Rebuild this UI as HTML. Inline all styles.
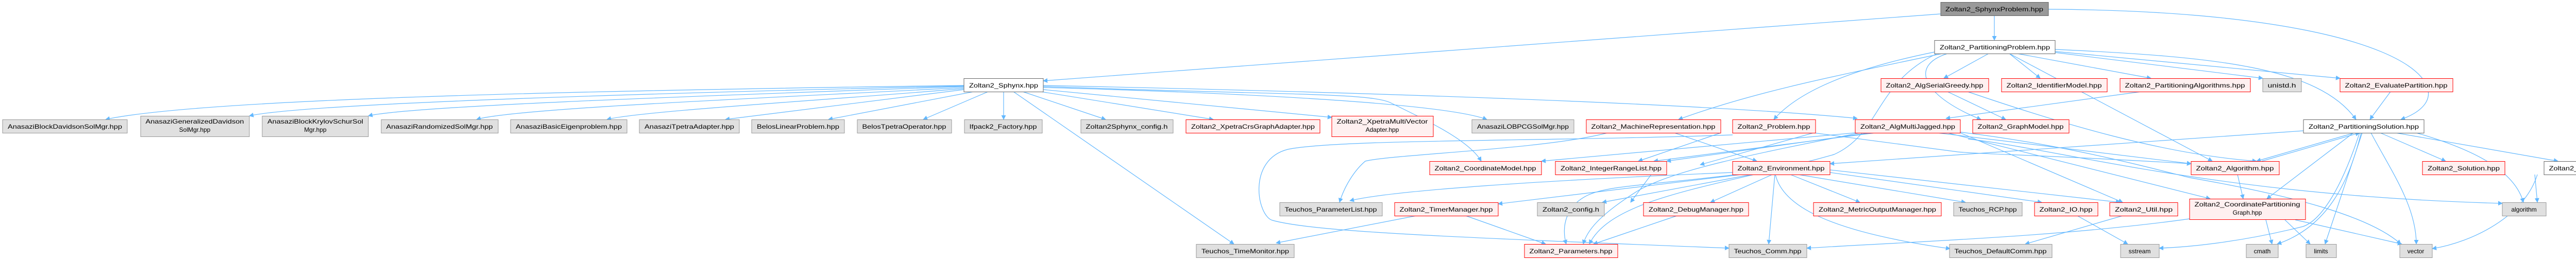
<!DOCTYPE html>
<html><head><meta charset="utf-8"><style>
html,body{margin:0;padding:0;background:#fff;}
svg{display:block;}
text{font-family:"Liberation Sans",sans-serif;font-size:12px;fill:#000;}
.g rect{fill:#e0e0e0;stroke:#999;stroke-width:1;}
.r rect{fill:#fff0f0;stroke:#f00;stroke-width:1;}
.w rect{fill:#fff;stroke:#666;stroke-width:1;}
.d rect{fill:#999;stroke:#666;stroke-width:1;}
.e path{fill:none;stroke:#63b8ff;stroke-width:1.2;}
</style></head><body>
<svg width="5133" height="505" viewBox="0 0 5133 505" xmlns="http://www.w3.org/2000/svg">
<defs><marker id="a" viewBox="0 0 10 10" refX="9" refY="5" markerWidth="9" markerHeight="9" orient="auto" markerUnits="userSpaceOnUse"><path d="M0,0 L10,5 L0,10 z" fill="#63b8ff"/></marker></defs>
<g class="e" marker-end="url(#a)">
<path marker-end="url(#a)" d="M3871 31 L3871 78"/>
<path marker-end="url(#a)" d="M3767 27 L2025 157"/>
<path marker-end="url(#a)" d="M3976 18 C4400 20 4640 80 4700 150 C4740 200 4680 225 4660 232"/>
<path marker-end="url(#a)" d="M3860 104 L3773 152"/>
<path marker-end="url(#a)" d="M3900 104 L3960 152"/>
<path marker-end="url(#a)" d="M3915 104 L4175 152"/>
<path marker-end="url(#a)" d="M3989 102 L4392 152"/>
<path marker-end="url(#a)" d="M3989 100 L4542 152"/>
<path marker-end="url(#a)" d="M3989 96 C4300 110 4500 130 4573 232"/>
<path marker-end="url(#a)" d="M3770 104 C3550 150 3400 180 3258 232"/>
<path marker-end="url(#a)" d="M3760 100 C3560 140 3480 190 3443 232"/>
<path marker-end="url(#a)" d="M3780 104 C3700 130 3740 190 3845 232"/>
<path marker-end="url(#a)" d="M3900 104 L4294 313"/>
<path marker-end="url(#a)" d="M3760 104 C3640 160 3650 260 3560 300 C3350 360 3130 380 3085 474"/>
<path marker-end="url(#a)" d="M1871 166 C1200 175 400 190 205 232"/>
<path marker-end="url(#a)" d="M1871 167 C1300 180 600 200 484 225"/>
<path marker-end="url(#a)" d="M1871 168 C1400 185 800 205 715 225"/>
<path marker-end="url(#a)" d="M1871 170 C1500 190 1000 210 925 232"/>
<path marker-end="url(#a)" d="M1871 172 C1600 195 1250 215 1178 232"/>
<path marker-end="url(#a)" d="M1871 174 L1408 232"/>
<path marker-end="url(#a)" d="M1890 178 L1608 232"/>
<path marker-end="url(#a)" d="M1918 178 L1792 232"/>
<path marker-end="url(#a)" d="M1948 178 L1948 232"/>
<path marker-end="url(#a)" d="M1985 178 L2146 232"/>
<path marker-end="url(#a)" d="M2020 178 L2355 232"/>
<path marker-end="url(#a)" d="M2025 174 L2585 228"/>
<path marker-end="url(#a)" d="M2025 170 C2400 180 2800 200 2886 232"/>
<path marker-end="url(#a)" d="M2025 166 C2600 178 3300 200 3605 230"/>
<path marker-end="url(#a)" d="M2025 168 C2500 185 2660 180 2700 200 C2760 230 2850 270 2875 313"/>
<path marker-end="url(#a)" d="M1967 178 L2395 474"/>
<path marker-end="url(#a)" d="M3120 258 C3000 290 2700 300 2650 313 C2630 330 2610 360 2600 393"/>
<path marker-end="url(#a)" d="M3363 262 C3000 275 2600 270 2500 290 C2420 310 2440 420 2470 428 C2550 450 2800 460 3356 482"/>
<path marker-end="url(#a)" d="M3520 258 L3800 295 C3850 300 3950 300 4253 318"/>
<path marker-end="url(#a)" d="M3520 258 L3300 320"/>
<path marker-end="url(#a)" d="M3340 258 L3180 313"/>
<path marker-end="url(#a)" d="M3250 258 L3410 313"/>
<path marker-end="url(#a)" d="M3630 258 L3235 313"/>
<path marker-end="url(#a)" d="M3640 258 L3210 313"/>
<path marker-end="url(#a)" d="M3601 258 L2992 313"/>
<path marker-end="url(#a)" d="M3610 258 C3400 300 3250 330 3180 370 C3100 420 3080 450 3073 474"/>
<path marker-end="url(#a)" d="M3760 258 L4253 318"/>
<path marker-end="url(#a)" d="M3805 258 L4120 393"/>
<path marker-end="url(#a)" d="M3780 258 L4290 386"/>
<path marker-end="url(#a)" d="M3800 256 C4000 280 4150 320 4250 345 C4450 380 4600 420 4660 474"/>
<path marker-end="url(#a)" d="M3820 270 C4000 290 4300 380 4857 395"/>
<path marker-end="url(#a)" d="M4471 254 L3552 318"/>
<path marker-end="url(#a)" d="M4570 258 L4380 313"/>
<path marker-end="url(#a)" d="M4390 313 L4580 258"/>
<path marker-end="url(#a)" d="M4620 258 L4747 313"/>
<path marker-end="url(#a)" d="M4650 258 L4965 313"/>
<path marker-end="url(#a)" d="M4568 258 L4400 386"/>
<path marker-end="url(#a)" d="M4690 258 C4800 290 4880 330 4898 393"/>
<path marker-end="url(#a)" d="M4602 258 C4640 330 4690 400 4690 474"/>
<path marker-end="url(#a)" d="M4585 258 L4513 474"/>
<path marker-end="url(#a)" d="M4583 258 C4560 350 4520 440 4420 474"/>
<path marker-end="url(#a)" d="M4580 258 C4540 380 4500 430 4470 440 C4350 470 4250 480 4191 482"/>
<path marker-end="url(#a)" d="M4640 178 L4600 232"/>
<path marker-end="url(#a)" d="M4156 178 L3777 230"/>
<path marker-end="url(#a)" d="M3780 178 L3893 232"/>
<path marker-end="url(#a)" d="M3819 178 C4000 240 4200 300 4380 313"/>
<path marker-end="url(#a)" d="M4343 339 L4354 386"/>
<path marker-end="url(#a)" d="M4398 427 L4410 474"/>
<path marker-end="url(#a)" d="M4435 427 L4484 474"/>
<path marker-end="url(#a)" d="M4455 427 L4662 474"/>
<path marker-end="url(#a)" d="M4250 425 C4000 460 3700 470 3507 482"/>
<path marker-end="url(#a)" d="M4920 339 L4925 393"/>
<path marker-end="url(#a)" d="M4925 339 C4900 420 4800 470 4721 483"/>
<path marker-end="url(#a)" d="M3400 339 L3110 393"/>
<path marker-end="url(#a)" d="M3440 339 L3320 393"/>
<path marker-end="url(#a)" d="M3475 339 L3610 393"/>
<path marker-end="url(#a)" d="M3490 339 L3815 393"/>
<path marker-end="url(#a)" d="M3552 335 L3963 393"/>
<path marker-end="url(#a)" d="M3552 330 L4115 393"/>
<path marker-end="url(#a)" d="M3445 339 L3433 474"/>
<path marker-end="url(#a)" d="M3446 339 C3460 400 3550 450 3785 483"/>
<path marker-end="url(#a)" d="M3370 339 C3200 360 3120 360 3080 380 C3040 400 3030 440 3040 474"/>
<path marker-end="url(#a)" d="M3363 335 C3000 350 2700 370 2620 390"/>
<path marker-end="url(#a)" d="M3380 339 L2908 396"/>
<path marker-end="url(#a)" d="M3205 339 L3165 393"/>
<path marker-end="url(#a)" d="M2845 419 L3000 474"/>
<path marker-end="url(#a)" d="M2749 419 L2477 472"/>
<path marker-end="url(#a)" d="M3255 419 L3093 474"/>
<path marker-end="url(#a)" d="M4120 419 L3931 474"/>
<path marker-end="url(#a)" d="M4032 419 L4130 474"/>
</g>
<g class="d"><rect x="3767" y="4.5" width="209" height="26"/><text x="3871" y="22" text-anchor="middle" textLength="190" lengthAdjust="spacingAndGlyphs">Zoltan2_SphynxProblem.hpp</text></g>
<g class="w"><rect x="3755" y="78.5" width="234" height="26"/><text x="3872" y="96" text-anchor="middle" textLength="214" lengthAdjust="spacingAndGlyphs">Zoltan2_PartitioningProblem.hpp</text></g>
<g class="w"><rect x="1871" y="152.5" width="154" height="26"/><text x="1948" y="170" text-anchor="middle" textLength="134" lengthAdjust="spacingAndGlyphs">Zoltan2_Sphynx.hpp</text></g>
<g class="r"><rect x="3651" y="152.5" width="209" height="26"/><text x="3755" y="170" text-anchor="middle" textLength="189" lengthAdjust="spacingAndGlyphs">Zoltan2_AlgSerialGreedy.hpp</text></g>
<g class="r"><rect x="3885" y="152.5" width="205" height="26"/><text x="3987" y="170" text-anchor="middle" textLength="185" lengthAdjust="spacingAndGlyphs">Zoltan2_IdentifierModel.hpp</text></g>
<g class="r"><rect x="4115" y="152.5" width="253" height="26"/><text x="4241" y="170" text-anchor="middle" textLength="233" lengthAdjust="spacingAndGlyphs">Zoltan2_PartitioningAlgorithms.hpp</text></g>
<g class="g"><rect x="4392" y="152.5" width="75" height="26"/><text x="4429" y="170" text-anchor="middle" textLength="55" lengthAdjust="spacingAndGlyphs">unistd.h</text></g>
<g class="r"><rect x="4542" y="152.5" width="219" height="26"/><text x="4651" y="170" text-anchor="middle" textLength="199" lengthAdjust="spacingAndGlyphs">Zoltan2_EvaluatePartition.hpp</text></g>
<g class="g"><rect x="5" y="232.5" width="242" height="26"/><text x="126" y="250" text-anchor="middle" textLength="222" lengthAdjust="spacingAndGlyphs">AnasaziBlockDavidsonSolMgr.hpp</text></g>
<g class="g"><rect x="273" y="225.5" width="211" height="40"/><text x="378" y="240" text-anchor="middle" textLength="191" lengthAdjust="spacingAndGlyphs">AnasaziGeneralizedDavidson</text><text x="378" y="256" text-anchor="middle">SolMgr.hpp</text></g>
<g class="g"><rect x="509" y="225.5" width="206" height="40"/><text x="612" y="240" text-anchor="middle" textLength="186" lengthAdjust="spacingAndGlyphs">AnasaziBlockKrylovSchurSol</text><text x="612" y="256" text-anchor="middle">Mgr.hpp</text></g>
<g class="g"><rect x="740" y="232.5" width="227" height="26"/><text x="853" y="250" text-anchor="middle" textLength="207" lengthAdjust="spacingAndGlyphs">AnasaziRandomizedSolMgr.hpp</text></g>
<g class="g"><rect x="991" y="232.5" width="226" height="26"/><text x="1104" y="250" text-anchor="middle" textLength="206" lengthAdjust="spacingAndGlyphs">AnasaziBasicEigenproblem.hpp</text></g>
<g class="g"><rect x="1241" y="232.5" width="194" height="26"/><text x="1338" y="250" text-anchor="middle" textLength="174" lengthAdjust="spacingAndGlyphs">AnasaziTpetraAdapter.hpp</text></g>
<g class="g"><rect x="1459" y="232.5" width="180" height="26"/><text x="1549" y="250" text-anchor="middle" textLength="160" lengthAdjust="spacingAndGlyphs">BelosLinearProblem.hpp</text></g>
<g class="g"><rect x="1664" y="232.5" width="183" height="26"/><text x="1755" y="250" text-anchor="middle" textLength="163" lengthAdjust="spacingAndGlyphs">BelosTpetraOperator.hpp</text></g>
<g class="g"><rect x="1872" y="232.5" width="151" height="26"/><text x="1947" y="250" text-anchor="middle" textLength="131" lengthAdjust="spacingAndGlyphs">Ifpack2_Factory.hpp</text></g>
<g class="g"><rect x="2098" y="232.5" width="179" height="26"/><text x="2187" y="250" text-anchor="middle" textLength="159" lengthAdjust="spacingAndGlyphs">Zoltan2Sphynx_config.h</text></g>
<g class="r"><rect x="2302" y="232.5" width="260" height="26"/><text x="2432" y="250" text-anchor="middle" textLength="240" lengthAdjust="spacingAndGlyphs">Zoltan2_XpetraCrsGraphAdapter.hpp</text></g>
<g class="r"><rect x="2585" y="225.5" width="197" height="40"/><text x="2683" y="240" text-anchor="middle" textLength="177" lengthAdjust="spacingAndGlyphs">Zoltan2_XpetraMultiVector</text><text x="2683" y="256" text-anchor="middle">Adapter.hpp</text></g>
<g class="g"><rect x="2857" y="232.5" width="198" height="26"/><text x="2956" y="250" text-anchor="middle" textLength="178" lengthAdjust="spacingAndGlyphs">AnasaziLOBPCGSolMgr.hpp</text></g>
<g class="r"><rect x="3079" y="232.5" width="261" height="26"/><text x="3209" y="250" text-anchor="middle" textLength="241" lengthAdjust="spacingAndGlyphs">Zoltan2_MachineRepresentation.hpp</text></g>
<g class="r"><rect x="3363" y="232.5" width="161" height="26"/><text x="3443" y="250" text-anchor="middle" textLength="141" lengthAdjust="spacingAndGlyphs">Zoltan2_Problem.hpp</text></g>
<g class="r"><rect x="3601" y="232.5" width="204" height="26"/><text x="3703" y="250" text-anchor="middle" textLength="184" lengthAdjust="spacingAndGlyphs">Zoltan2_AlgMultiJagged.hpp</text></g>
<g class="r"><rect x="3829" y="232.5" width="187" height="26"/><text x="3922" y="250" text-anchor="middle" textLength="167" lengthAdjust="spacingAndGlyphs">Zoltan2_GraphModel.hpp</text></g>
<g class="w"><rect x="4471" y="232.5" width="234" height="26"/><text x="4588" y="250" text-anchor="middle" textLength="214" lengthAdjust="spacingAndGlyphs">Zoltan2_PartitioningSolution.hpp</text></g>
<g class="r"><rect x="2775" y="313.5" width="217" height="26"/><text x="2883" y="331" text-anchor="middle" textLength="197" lengthAdjust="spacingAndGlyphs">Zoltan2_CoordinateModel.hpp</text></g>
<g class="r"><rect x="3019" y="313.5" width="216" height="26"/><text x="3127" y="331" text-anchor="middle" textLength="196" lengthAdjust="spacingAndGlyphs">Zoltan2_IntegerRangeList.hpp</text></g>
<g class="r"><rect x="3363" y="313.5" width="189" height="26"/><text x="3457" y="331" text-anchor="middle" textLength="169" lengthAdjust="spacingAndGlyphs">Zoltan2_Environment.hpp</text></g>
<g class="r"><rect x="4253" y="313.5" width="171" height="26"/><text x="4338" y="331" text-anchor="middle" textLength="151" lengthAdjust="spacingAndGlyphs">Zoltan2_Algorithm.hpp</text></g>
<g class="r"><rect x="4702" y="313.5" width="160" height="26"/><text x="4782" y="331" text-anchor="middle" textLength="140" lengthAdjust="spacingAndGlyphs">Zoltan2_Solution.hpp</text></g>
<g class="w"><rect x="4938" y="313.5" width="191" height="26"/><text x="5033" y="331" text-anchor="middle" textLength="171" lengthAdjust="spacingAndGlyphs">Zoltan2_GreedyMWM.hpp</text></g>
<g class="g"><rect x="2484" y="393.5" width="199" height="26"/><text x="2583" y="411" text-anchor="middle" textLength="179" lengthAdjust="spacingAndGlyphs">Teuchos_ParameterList.hpp</text></g>
<g class="r"><rect x="2707" y="393.5" width="201" height="26"/><text x="2807" y="411" text-anchor="middle" textLength="181" lengthAdjust="spacingAndGlyphs">Zoltan2_TimerManager.hpp</text></g>
<g class="g"><rect x="2984" y="393.5" width="130" height="26"/><text x="3049" y="411" text-anchor="middle" textLength="110" lengthAdjust="spacingAndGlyphs">Zoltan2_config.h</text></g>
<g class="r"><rect x="3190" y="393.5" width="204" height="26"/><text x="3292" y="411" text-anchor="middle" textLength="184" lengthAdjust="spacingAndGlyphs">Zoltan2_DebugManager.hpp</text></g>
<g class="r"><rect x="3520" y="393.5" width="248" height="26"/><text x="3644" y="411" text-anchor="middle" textLength="228" lengthAdjust="spacingAndGlyphs">Zoltan2_MetricOutputManager.hpp</text></g>
<g class="g"><rect x="3792" y="393.5" width="133" height="26"/><text x="3858" y="411" text-anchor="middle" textLength="113" lengthAdjust="spacingAndGlyphs">Teuchos_RCP.hpp</text></g>
<g class="r"><rect x="3949" y="393.5" width="123" height="26"/><text x="4010" y="411" text-anchor="middle" textLength="103" lengthAdjust="spacingAndGlyphs">Zoltan2_IO.hpp</text></g>
<g class="r"><rect x="4095" y="393.5" width="132" height="26"/><text x="4161" y="411" text-anchor="middle" textLength="112" lengthAdjust="spacingAndGlyphs">Zoltan2_Util.hpp</text></g>
<g class="r"><rect x="4250" y="386.5" width="225" height="40"/><text x="4362" y="401" text-anchor="middle" textLength="205" lengthAdjust="spacingAndGlyphs">Zoltan2_CoordinatePartitioning</text><text x="4362" y="417" text-anchor="middle">Graph.hpp</text></g>
<g class="g"><rect x="4857" y="393.5" width="85" height="26"/><text x="4899" y="411" text-anchor="middle">algorithm</text></g>
<g class="g"><rect x="2322" y="474.5" width="190" height="26"/><text x="2417" y="492" text-anchor="middle" textLength="170" lengthAdjust="spacingAndGlyphs">Teuchos_TimeMonitor.hpp</text></g>
<g class="r"><rect x="2959" y="474.5" width="181" height="26"/><text x="3049" y="492" text-anchor="middle" textLength="161" lengthAdjust="spacingAndGlyphs">Zoltan2_Parameters.hpp</text></g>
<g class="g"><rect x="3356" y="474.5" width="151" height="26"/><text x="3431" y="492" text-anchor="middle" textLength="131" lengthAdjust="spacingAndGlyphs">Teuchos_Comm.hpp</text></g>
<g class="g"><rect x="3784" y="474.5" width="199" height="26"/><text x="3883" y="492" text-anchor="middle" textLength="179" lengthAdjust="spacingAndGlyphs">Teuchos_DefaultComm.hpp</text></g>
<g class="g"><rect x="4116" y="474.5" width="75" height="26"/><text x="4153" y="492" text-anchor="middle">sstream</text></g>
<g class="g"><rect x="4360" y="474.5" width="62" height="26"/><text x="4391" y="492" text-anchor="middle">cmath</text></g>
<g class="g"><rect x="4476" y="474.5" width="59" height="26"/><text x="4505" y="492" text-anchor="middle">limits</text></g>
<g class="g"><rect x="4658" y="474.5" width="63" height="26"/><text x="4689" y="492" text-anchor="middle">vector</text></g>
</svg>
</body></html>
